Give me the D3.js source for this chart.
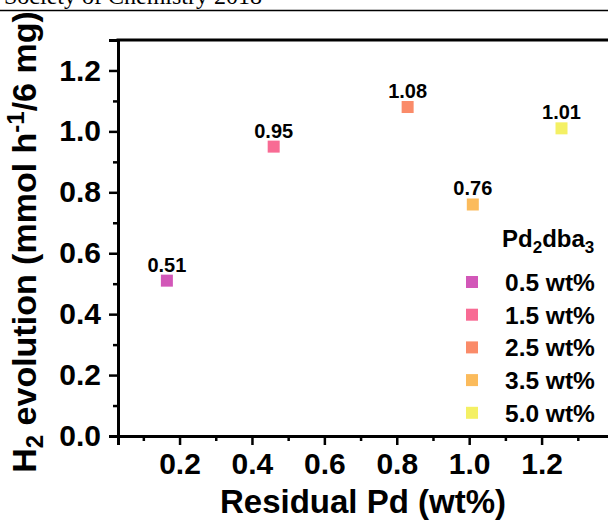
<!DOCTYPE html>
<html><head><meta charset="utf-8">
<script src="https://cdn.jsdelivr.net/npm/d3@7"></script>
<style>body{margin:0;background:#fff;} svg{display:block;overflow:hidden;}</style>
</head><body>
<svg id="c" width="608" height="522"></svg>
<script>
const categories = ["0.5 wt%", "1.5 wt%", "2.5 wt%", "3.5 wt%", "5.0 wt%"];
const residualPd = [0.165, 0.46, 0.83, 1.01, 1.255];
const h2Evolution = [0.51, 0.95, 1.08, 0.76, 1.01];
const pointLabels = ["0.51", "0.95", "1.08", "0.76", "1.01"];
const colors = ["#d257b8", "#f86b94", "#fa8b69", "#fbbb5c", "#f4f064"];
const xTicks = [0.2, 0.4, 0.6, 0.8, 1.0, 1.2];
const xMinor = [0.1, 0.3, 0.5, 0.7, 0.9, 1.1, 1.3];
const yTicks = [0.0, 0.2, 0.4, 0.6, 0.8, 1.0, 1.2];
const yMinor = [0.1, 0.3, 0.5, 0.7, 0.9, 1.1];

const svg = d3.select("#c");
const font = "'Liberation Sans', Arial, sans-serif";
const x = d3.scaleLinear().domain([0.03, 1.4]).range([118, 614]);
const y = d3.scaleLinear().domain([0, 1.3]).range([436, 40]);

// header remnant (cropped page header as in the reference)
svg.append("text").attr("x", 262).attr("y", 4).attr("text-anchor", "end")
  .attr("font-family", "'Liberation Serif', 'Times New Roman', serif").attr("font-size", 24)
  .text("The Royal Society of Chemistry 2018");
svg.append("line").attr("x1", 0).attr("x2", 608).attr("y1", 10.5).attr("y2", 10.5)
  .attr("stroke", "#000").attr("stroke-width", 1.5);

// axes
const xAxis = d3.axisBottom(x).tickValues(xTicks).tickFormat(d3.format(".1f")).tickSize(9).tickPadding(8);
const gx = svg.append("g").attr("transform", `translate(0,${y(0)})`).call(xAxis);
const xMinorAxis = d3.axisBottom(x).tickValues(xMinor).tickFormat("").tickSize(5);
const gxm = svg.append("g").attr("transform", `translate(0,${y(0)})`).call(xMinorAxis);
const yAxis = d3.axisLeft(y).tickValues(yTicks).tickFormat(d3.format(".1f")).tickSize(9).tickPadding(8);
const gy = svg.append("g").attr("transform", `translate(${x(0.03)},0)`).call(yAxis);
const yMinorAxis = d3.axisLeft(y).tickValues(yMinor).tickFormat("").tickSize(5);
const gym = svg.append("g").attr("transform", `translate(${x(0.03)},0)`).call(yMinorAxis);
[gx, gxm, gy, gym].forEach(g => {
  g.select(".domain").attr("stroke", "#000").attr("stroke-width", 3);
  g.selectAll(".tick line").attr("stroke", "#000").attr("stroke-width", 2.5);
  g.selectAll(".tick text").attr("font-family", font).attr("font-size", 30)
    .attr("font-weight", "bold").attr("fill", "#000");
});
gym.select(".domain").remove(); gxm.select(".domain").remove();
// top border
svg.append("line").attr("x1", x(0.03) - 1.5).attr("x2", 608).attr("y1", y(1.3)).attr("y2", y(1.3))
  .attr("stroke", "#000").attr("stroke-width", 3);

// axis titles
svg.append("text").attr("x", (x(0.03) + 608) / 2 + 0).attr("y", 513).attr("text-anchor", "middle")
  .attr("font-family", font).attr("font-size", 33).attr("font-weight", "bold")
  .text("Residual Pd (wt%)");
const yt = svg.append("text").attr("transform", `translate(36,242) rotate(-90)`)
  .attr("text-anchor", "middle").attr("font-family", font).attr("font-size", 34).attr("font-weight", "bold");
yt.append("tspan").text("H");
yt.append("tspan").attr("font-size", 24).attr("dy", 7).text("2");
yt.append("tspan").attr("dy", -7).text(" evolution (mmol h");
yt.append("tspan").attr("font-size", 24).attr("dy", -12).text("-1");
yt.append("tspan").attr("dy", 12).text("/6 mg)");

// points
const pts = residualPd.map((v, i) => ({x: v, y: h2Evolution[i], c: colors[i], l: pointLabels[i]}));
svg.selectAll("rect.pt").data(pts).join("rect").attr("class", "pt")
  .attr("x", d => x(d.x) - 6).attr("y", d => y(d.y) - 6).attr("width", 12).attr("height", 12)
  .attr("fill", d => d.c);
svg.selectAll("text.pl").data(pts).join("text").attr("class", "pl")
  .attr("x", d => x(d.x)).attr("y", d => y(d.y) - 9).attr("text-anchor", "middle")
  .attr("font-family", font).attr("font-size", 20).attr("font-weight", "bold").text(d => d.l);

// legend
const lt = svg.append("text").attr("x", 502).attr("y", 247).attr("font-family", font)
  .attr("font-size", 24).attr("font-weight", "bold");
lt.append("tspan").text("Pd");
lt.append("tspan").attr("font-size", 17).attr("dy", 6).text("2");
lt.append("tspan").attr("dy", -6).text("dba");
lt.append("tspan").attr("font-size", 17).attr("dy", 6).text("3");
const lg = svg.selectAll("g.lg").data(categories).join("g").attr("class", "lg")
  .attr("transform", (d, i) => `translate(0,${282 + i * 32.7})`);
lg.append("rect").attr("x", 466).attr("y", -6).attr("width", 12).attr("height", 12)
  .attr("fill", (d, i) => colors[i]);
lg.append("text").attr("x", 505).attr("y", 9).attr("font-family", font).attr("font-size", 24.5)
  .attr("font-weight", "bold").text(d => d);
</script>
</body></html>
